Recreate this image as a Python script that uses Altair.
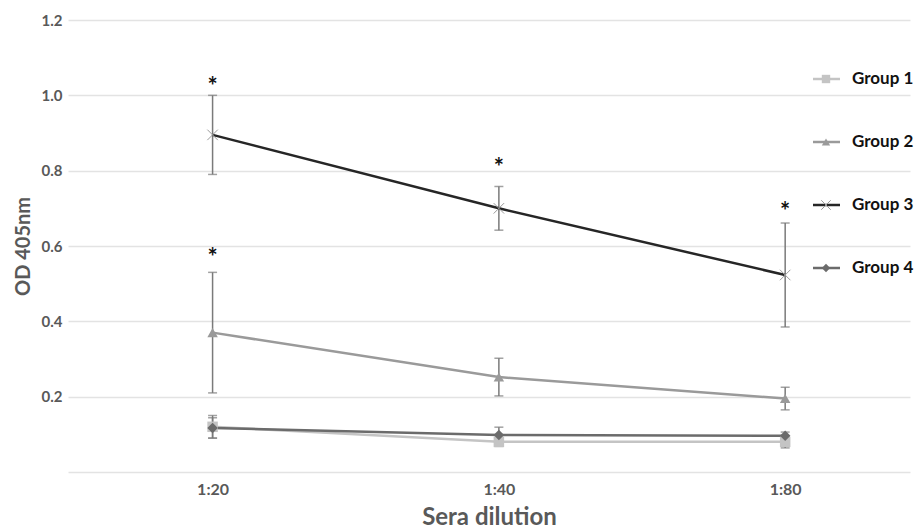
import altair as alt
import pandas as pd

dilutions = ["1:20", "1:40", "1:80"]
groups = ["Group 1", "Group 2", "Group 3", "Group 4"]
g1_mean = [0.120, 0.080, 0.080]
g2_mean = [0.370, 0.252, 0.195]
g3_mean = [0.895, 0.700, 0.523]
g4_mean = [0.117, 0.098, 0.096]
g1_err = [0.030, 0.012, 0.016]
g2_err = [0.160, 0.050, 0.030]
g3_err = [0.105, 0.058, 0.138]
g4_err = [0.027, 0.021, 0.010]
star_dilution = ["1:20", "1:20", "1:40", "1:80"]
star_value = [1.035, 0.581, 0.820, 0.703]

colors = ["#c4c4c4", "#9a9a9a", "#262626", "#6b6b6b"]
shapes = ["square", "triangle-up", "M-1,-1L1,1M-1,1L1,-1", "diamond"]
FONT = "Lato"
GREY = "#595959"

means = [g1_mean, g2_mean, g3_mean, g4_mean]
errs = [g1_err, g2_err, g3_err, g4_err]
rows = []
for gi, g in enumerate(groups):
    for di, d in enumerate(dilutions):
        rows.append({"group": g, "dilution": d, "xi": di, "od": means[gi][di],
                     "lo": means[gi][di] - errs[gi][di], "hi": means[gi][di] + errs[gi][di]})
df = pd.DataFrame(rows)
stars = pd.DataFrame({"xi": [dilutions.index(d) for d in star_dilution], "od": star_value, "t": ["*"] * len(star_value)})
leg = pd.DataFrame({"group": groups})

yscale = alt.Scale(domain=[0, 1.2], nice=False, zero=True)
xscale = alt.Scale(domain=[-0.505, 2.436], nice=False, zero=False)
color = alt.Color("group:N", scale=alt.Scale(domain=groups, range=colors), legend=None)
shape = alt.Shape("group:N", scale=alt.Scale(domain=groups, range=shapes), legend=None)

xaxis = alt.Axis(values=[0, 1, 2], labelExpr="['1:20','1:40','1:80'][datum.value]",
                 grid=False, domain=False, ticks=False, labelPadding=9, labelFontSize=16,
                 labelFontWeight="bold", labelColor=GREY, labelFont=FONT,
                 title="Sera dilution", titleFontSize=24, titleColor=GREY, titleFont=FONT,
                 titleFontWeight="bold", titlePadding=8)
yaxis = alt.Axis(values=[0, 0.2, 0.4, 0.6, 0.8, 1.0, 1.2],
                 labelExpr="datum.value == 0 ? '' : format(datum.value, '.1f')",
                 grid=True, gridColor="#e3e3e3", gridWidth=1.5, domain=False, ticks=False,
                 labelPadding=6, labelFontSize=15, labelFontWeight="bold", labelColor=GREY,
                 labelFont=FONT, title="OD 405nm", titleFontSize=20, titleFontWeight="bold",
                 titleColor=GREY, titleFont=FONT, titlePadding=8)

base = alt.Chart(df)
X = alt.X("xi:Q", scale=xscale, axis=xaxis)

grid_layer = base.mark_rule(opacity=0).encode(x=X, y=alt.Y("od:Q", scale=yscale, axis=yaxis))
err_rule = base.mark_rule(color="#7a7a7a", strokeWidth=1.5).encode(
    x=X, y=alt.Y("lo:Q", scale=yscale, axis=None), y2="hi:Q")
cap_lo = base.mark_tick(color="#7a7a7a", thickness=1.5, size=9, orient="horizontal").encode(
    x=X, y=alt.Y("lo:Q", scale=yscale, axis=None))
cap_hi = base.mark_tick(color="#7a7a7a", thickness=1.5, size=9, orient="horizontal").encode(
    x=X, y=alt.Y("hi:Q", scale=yscale, axis=None))
lines = base.mark_line(strokeWidth=2.5).encode(
    x=X, y=alt.Y("od:Q", scale=yscale, axis=None), color=color,
    order=alt.Order("xi:Q"), detail="group:N")
pts = base.transform_filter(alt.datum.group != "Group 3").mark_point(filled=True, size=110, opacity=1).encode(
    x=X, y=alt.Y("od:Q", scale=yscale, axis=None), color=color, shape=shape)
xpts = base.transform_filter(alt.datum.group == "Group 3").mark_point(
    filled=False, size=110, strokeWidth=1, color="#9a9a9a", opacity=1).encode(
    x=X, y=alt.Y("od:Q", scale=yscale, axis=None), shape=shape)
star_layer = alt.Chart(stars).mark_text(fontSize=24, fontWeight="bold", font=FONT, color="#111",
                                         baseline="middle", dy=6).encode(
    x=X, y=alt.Y("od:Q", scale=yscale, axis=None), text="t:N")

ly = alt.Y("group:N", scale=alt.Scale(type="point", domain=groups, range=[59, 248], padding=0), axis=None)
lbase = alt.Chart(leg)
leg_line = lbase.mark_rule(strokeWidth=2.5).encode(x=alt.value(745), x2=alt.value(772), y=ly, color=color)
leg_pts = lbase.transform_filter(alt.datum.group != "Group 3").mark_point(filled=True, size=70, opacity=1).encode(
    x=alt.value(758), y=ly, color=color, shape=shape)
leg_x = lbase.transform_filter(alt.datum.group == "Group 3").mark_point(
    filled=False, size=90, strokeWidth=1, color="#9a9a9a", opacity=1).encode(x=alt.value(758), y=ly, shape=shape)
leg_text = lbase.mark_text(align="left", baseline="middle", fontSize=17, fontWeight="bold",
                           font=FONT, color="#111").encode(x=alt.value(784), y=ly, text="group:N")

chart = alt.layer(grid_layer, err_rule, cap_lo, cap_hi, lines, pts, xpts, star_layer,
                  leg_line, leg_pts, leg_x, leg_text).resolve_scale(y="independent").properties(
    width=842, height=452,
    autosize=alt.AutoSizeParams(type="none"),
    padding={"left": 68, "top": 20, "right": 4, "bottom": 57},
    background="white",
).configure_view(stroke=None)

chart.save("out.html", embed_options={"renderer": "svg", "actions": False})
